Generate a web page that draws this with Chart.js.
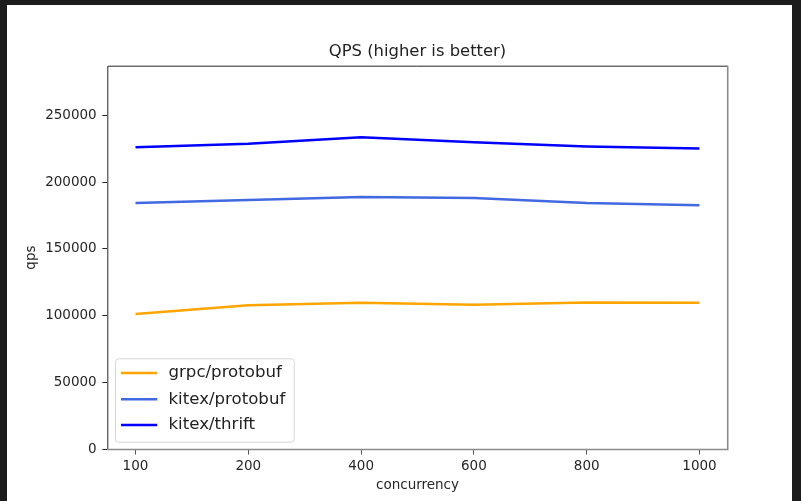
<!DOCTYPE html>
<html>
<head>
<meta charset="utf-8">
<script src="https://cdn.jsdelivr.net/npm/chart.js@4.4.0/dist/chart.umd.min.js"></script>
<style>
  html, body { margin: 0; padding: 0; background: #1c1c1c; width: 801px; height: 501px; overflow: hidden; }
  #qpsChart { position: absolute; left: 7px; top: 5px; background: #fff; }
</style>
</head>
<body>
<canvas id="qpsChart" width="785" height="496"></canvas>
<script>
const concurrency = ['100', '200', '400', '600', '800', '1000'];
const grpcProtobuf = [101300, 107800, 109700, 108200, 110000, 109700];
const kitexProtobuf = [184400, 186600, 188900, 188100, 184400, 182600];
const kitexThrift = [226000, 228700, 233500, 229800, 226500, 225000];
const yTicks = [0, 50000, 100000, 150000, 200000, 250000];

const toPoints = arr => arr.map((v, i) => ({ x: i, y: v }));

Chart.defaults.font.family = "'DejaVu Sans', sans-serif";
Chart.defaults.color = '#262626';

// matplotlib-like frame + legend box in the lower left corner
const frameAndLegend = {
  id: 'frameAndLegend',
  afterDraw(chart) {
    const { ctx, chartArea: a } = chart;
    ctx.save();
    ctx.lineWidth = 1;
    ctx.strokeStyle = '#262626';
    ctx.beginPath();
    ctx.moveTo(a.left + 0.5, a.bottom);
    ctx.lineTo(a.left + 0.5, a.top + 0.5);
    ctx.lineTo(a.right, a.top + 0.5);
    ctx.stroke();
    ctx.strokeStyle = '#8c8c8c';
    ctx.lineWidth = 1.6;
    ctx.beginPath();
    ctx.moveTo(a.right, a.top);
    ctx.lineTo(a.right, a.bottom);
    ctx.lineTo(a.left, a.bottom);
    ctx.stroke();

    // legend
    const x = 108, y = 353.3, w = 178.7, h = 83.4;
    ctx.beginPath();
    ctx.roundRect(x + 0.5, y + 0.5, w, h, 3);
    ctx.fillStyle = 'rgba(255,255,255,0.8)';
    ctx.fill();
    ctx.strokeStyle = '#d6d6d6';
    ctx.lineWidth = 1;
    ctx.stroke();
    const rows = [368, 394.3, 420];
    ctx.font = "16.6px 'DejaVu Sans'";
    ctx.textBaseline = 'middle';
    ctx.textAlign = 'left';
    chart.data.datasets.forEach((ds, i) => {
      ctx.strokeStyle = ds.borderColor;
      ctx.lineWidth = 2.5;
      ctx.beginPath();
      ctx.moveTo(114, rows[i]);
      ctx.lineTo(150.3, rows[i]);
      ctx.stroke();
      ctx.fillStyle = '#222';
      ctx.fillText(ds.label, 161.5, rows[i]);
    });
    ctx.restore();
  }
};

new Chart(document.getElementById('qpsChart'), {
  type: 'line',
  data: {
    datasets: [
      { label: 'grpc/protobuf', data: toPoints(grpcProtobuf), borderColor: '#ffa500' },
      { label: 'kitex/protobuf', data: toPoints(kitexProtobuf), borderColor: '#4169e1' },
      { label: 'kitex/thrift', data: toPoints(kitexThrift), borderColor: '#0000ff' }
    ]
  },
  options: {
    responsive: false,
    animation: false,
    devicePixelRatio: 1,
    layout: { padding: { top: 0, left: 0, right: 64.3, bottom: 0 } },
    elements: {
      line: { borderWidth: 2.5, tension: 0, fill: false },
      point: { radius: 0 }
    },
    plugins: {
      legend: { display: false },
      tooltip: { enabled: false },
      title: {
        display: true,
        text: 'QPS (higher is better)',
        fullSize: false,
        color: '#222',
        font: { size: 16.4, weight: 'normal', lineHeight: 1.2 },
        padding: { top: 36.86, bottom: 4.16 }
      }
    },
    scales: {
      x: {
        type: 'linear',
        min: -0.25,
        max: 5.25,
        afterBuildTicks: scale => { scale.ticks = concurrency.map((_, i) => ({ value: i })); },
        afterFit: scale => { scale.height = 51.5; },
        ticks: {
          callback: v => concurrency[v],
          font: { size: 13.5 },
          padding: 3.4,
          maxRotation: 0
        },
        grid: { drawOnChartArea: false, drawTicks: true, tickLength: 5, color: '#555' },
        border: { display: false },
        title: {
          display: true,
          text: 'concurrency',
          color: '#262626',
          font: { size: 13.5, lineHeight: 1.2 },
          padding: { top: 0, bottom: 7.9 }
        }
      },
      y: {
        min: 0,
        max: 287000,
        afterBuildTicks: scale => { scale.ticks = yTicks.map(v => ({ value: v })); },
        afterFit: scale => { scale.width = 100.3; },
        ticks: {
          callback: v => String(v),
          font: { size: 13.5 },
          padding: 5.6
        },
        grid: { drawOnChartArea: false, drawTicks: true, tickLength: 5, color: '#262626' },
        border: { display: false },
        title: {
          display: true,
          text: 'qps',
          color: '#262626',
          font: { size: 13.5, lineHeight: 1.2 },
          padding: { top: 16.6, bottom: 0 }
        }
      }
    }
  },
  plugins: [frameAndLegend]
});
</script>
</body>
</html>
